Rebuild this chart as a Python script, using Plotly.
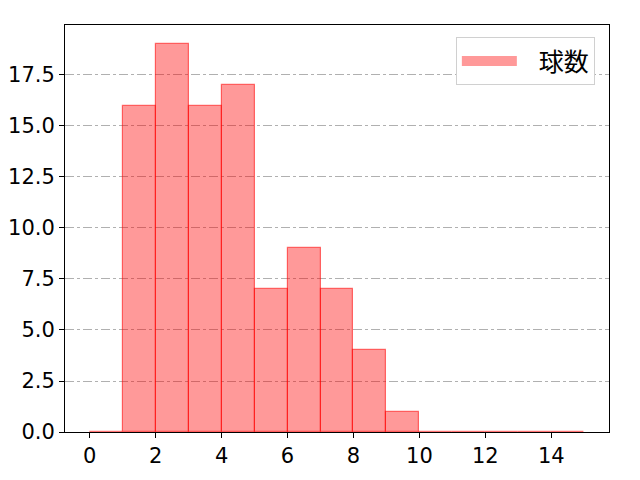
import plotly.graph_objects as go

# histogram bins (left edges) and counts
bin_left = list(range(0, 15))
counts = [0, 16, 19, 16, 17, 7, 9, 7, 4, 1, 0, 0, 0, 0, 0]
series_name = "球数"
x_ticks = [0, 2, 4, 6, 8, 10, 12, 14]
y_ticks = [0, 2.5, 5, 7.5, 10, 12.5, 15, 17.5]
y_labels = ["0.0", "2.5", "5.0", "7.5", "10.0", "12.5", "15.0", "17.5"]

jp_font = "Noto Sans CJK JP"
tick_font = dict(family="DejaVu Sans", size=21, color="black")

fig = go.Figure()
fig.add_trace(go.Bar(
    x=[b + 0.5 for b in bin_left],
    y=counts,
    width=1,
    name=series_name,
    marker=dict(color="rgba(255,0,0,0.4)",
                line=dict(color="rgba(255,0,0,0.55)", width=1.2)),
    showlegend=False,
))
# legend entry drawn as a wide patch like matplotlib's
fig.add_trace(go.Scatter(
    x=[None], y=[None], mode="lines", name="\u00a0\u00a0\u00a0" + series_name,
    line=dict(color="rgba(255,0,0,0.4)", width=18),
))

fig.update_layout(
    width=640, height=480,
    margin=dict(l=57, r=39, t=17, b=56),
    plot_bgcolor="white", paper_bgcolor="white",
    font=dict(family=jp_font, size=21, color="black"),
    bargap=0,
    showlegend=True,
    legend=dict(x=0.974, y=0.97, xanchor="right", yanchor="top",
                bgcolor="white", bordercolor="#d0d0d0", borderwidth=1,
                font=dict(size=25), itemwidth=55),
    xaxis=dict(range=[-0.75, 15.75], tickvals=x_ticks, showgrid=False,
               tickfont=tick_font, automargin=False,
               showline=True, linecolor="black", linewidth=1, mirror=True,
               ticks="outside", ticklen=5, tickcolor="black", zeroline=False),
    yaxis=dict(range=[0, 19.95], tickvals=y_ticks, ticktext=y_labels,
               tickfont=tick_font, automargin=False,
               showgrid=True, gridcolor="#b0b0b0", griddash="dashdot", gridwidth=1,
               showline=True, linecolor="black", linewidth=1, mirror=True,
               ticks="outside", ticklen=5, tickcolor="black", zeroline=False),
)

fig.write_html("out.html")
